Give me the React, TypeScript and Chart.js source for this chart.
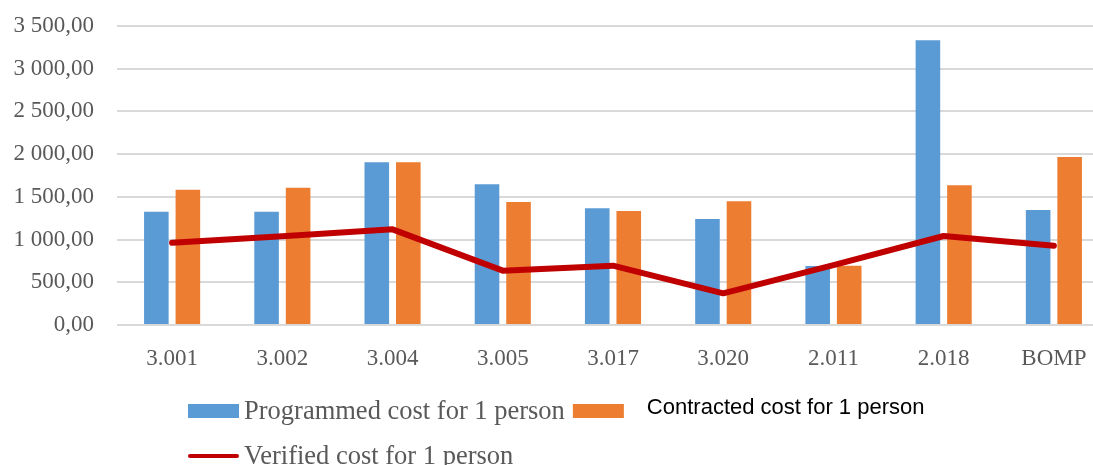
import React, { useEffect, useRef } from 'react';
import { Chart, registerables } from 'chart.js';

Chart.register(...registerables);

const categories = ['3.001', '3.002', '3.004', '3.005', '3.017', '3.020', '2.011', '2.018', 'BOMP'];
const programmedCost = [1326, 1326, 1904, 1647, 1366, 1241, 691, 3332, 1346];
const contractedCost = [1584, 1607, 1904, 1440, 1334, 1448, 694, 1635, 1967];
const verifiedCost = [963, 1040, 1120, 636, 694, 371, 700, 1042, 928];
const seriesNames = ['Programmed cost for 1 person', 'Contracted cost for 1 person', 'Verified cost for 1 person'];
const yMin = 0;
const yMax = 3500;
const yStep = 500;

const BLUE = '#5B9BD5';
const ORANGE = '#ED7D31';
const RED = '#C00000';
const GREY_TEXT = '#595959';
const SERIF = '"Liberation Serif", "Times New Roman", serif';
const SANS = '"Liberation Sans", Arial, sans-serif';

// "3 500,00" style: space as thousands separator, comma for decimals
function formatAmount(v: number): string {
  const [intPart, dec] = v.toFixed(2).split('.');
  return intPart.replace(/\B(?=(\d{3})+(?!\d))/g, ' ') + ',' + dec;
}

// Two-row legend with mixed typefaces, drawn under the axis labels
const splitLegend = {
  id: 'splitLegend',
  afterDraw(chart: any) {
    const ctx = chart.ctx as CanvasRenderingContext2D;
    const [programmed, contracted, verified] = chart.data.datasets;
    const area = chart.chartArea;
    const startX = 188;
    const row1 = area.bottom + 86;
    const row2 = area.bottom + 131;
    const boxW = 51;
    const boxH = 14;

    ctx.save();
    ctx.textBaseline = 'middle';
    ctx.textAlign = 'left';

    let x = startX;
    ctx.fillStyle = programmed.backgroundColor;
    ctx.fillRect(x, row1 - boxH / 2, boxW, boxH);
    x += boxW + 5;
    ctx.font = `26.5px ${SERIF}`;
    ctx.fillStyle = GREY_TEXT;
    ctx.fillText(programmed.label, x, row1 + 1);
    x += ctx.measureText(programmed.label).width + 8;

    ctx.fillStyle = contracted.backgroundColor;
    ctx.fillRect(x, row1 - boxH / 2, boxW, boxH);
    x += boxW + 23;
    ctx.font = `22px ${SANS}`;
    ctx.fillStyle = '#000000';
    ctx.fillText(contracted.label, x, row1 - 3);

    x = startX;
    ctx.strokeStyle = verified.borderColor;
    ctx.lineWidth = 4;
    ctx.lineCap = 'round';
    ctx.beginPath();
    ctx.moveTo(x + 2, row2);
    ctx.lineTo(x + boxW - 2, row2);
    ctx.stroke();
    x += boxW + 5;
    ctx.font = `26.5px ${SERIF}`;
    ctx.fillStyle = GREY_TEXT;
    ctx.fillText(verified.label, x, row2 + 1);
    ctx.restore();
  },
};

export default function App() {
  const canvasRef = useRef<HTMLCanvasElement | null>(null);

  useEffect(() => {
    const canvas = canvasRef.current;
    if (!canvas) return;
    const chart = new Chart(canvas, {
      type: 'bar',
      data: {
        labels: categories,
        datasets: [
          {
            type: 'bar',
            label: seriesNames[0],
            data: programmedCost,
            backgroundColor: BLUE,
            barPercentage: 0.78,
            categoryPercentage: 0.572,
            order: 1,
          },
          {
            type: 'bar',
            label: seriesNames[1],
            data: contractedCost,
            backgroundColor: ORANGE,
            barPercentage: 0.78,
            categoryPercentage: 0.572,
            order: 1,
          },
          {
            type: 'line',
            label: seriesNames[2],
            data: verifiedCost,
            borderColor: RED,
            backgroundColor: RED,
            borderWidth: 6,
            pointRadius: 0,
            tension: 0,
            borderCapStyle: 'round',
            borderJoinStyle: 'round',
            order: 0,
          } as any,
        ],
      },
      options: {
        responsive: false,
        animation: false,
        devicePixelRatio: 1,
        layout: { padding: { top: 26, right: 11, bottom: 0, left: 0 } },
        plugins: {
          legend: { display: false },
          tooltip: { enabled: false },
        },
        scales: {
          x: {
            grid: { display: false, drawTicks: false },
            border: { display: false },
            ticks: {
              color: GREY_TEXT,
              font: { family: SERIF, size: 23 },
              padding: 20,
              maxRotation: 0,
            },
            afterFit(scale: any) {
              scale.height = 140;
            },
          },
          y: {
            min: yMin,
            max: yMax,
            grid: { color: '#d9d9d9', lineWidth: 2, drawTicks: false },
            border: { display: false },
            ticks: {
              stepSize: yStep,
              color: GREY_TEXT,
              font: { family: SERIF, size: 23 },
              padding: 23,
              callback: (v: any) => formatAmount(Number(v)),
            },
            afterFit(scale: any) {
              scale.width = 117;
              // only the label overhang counts toward the plot inset
              scale.paddingTop = 14;
              scale.paddingBottom = 14;
            },
          },
        },
      },
      plugins: [splitLegend],
    });
    return () => chart.destroy();
  }, []);

  return (
    <div
      style={{
        position: 'absolute',
        left: 0,
        top: 0,
        width: 1093,
        height: 465,
        overflow: 'hidden',
        background: '#ffffff',
      }}
    >
      <canvas ref={canvasRef} width={1120} height={465} style={{ display: 'block' }} />
    </div>
  );
}
